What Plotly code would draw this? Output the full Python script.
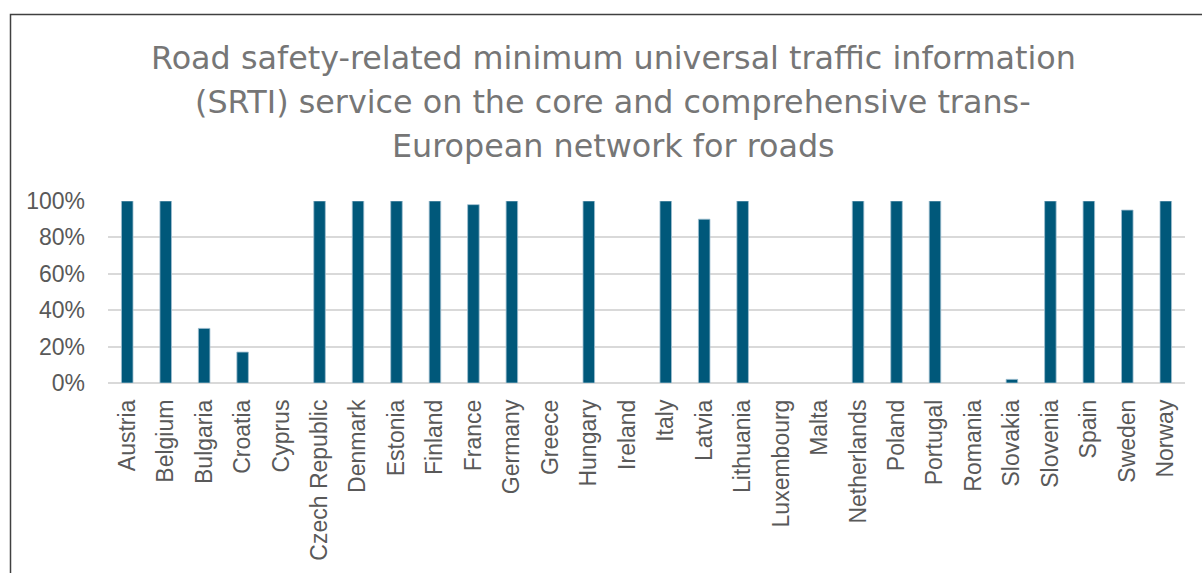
import plotly.graph_objects as go

countries = ["Austria", "Belgium", "Bulgaria", "Croatia", "Cyprus", "Czech Republic",
             "Denmark", "Estonia", "Finland", "France", "Germany", "Greece", "Hungary",
             "Ireland", "Italy", "Latvia", "Lithuania", "Luxembourg", "Malta",
             "Netherlands", "Poland", "Portugal", "Romania", "Slovakia", "Slovenia",
             "Spain", "Sweden", "Norway"]
values = [1.00, 1.00, 0.30, 0.17, 0.0, 1.00,
          1.00, 1.00, 1.00, 0.98, 1.00, 0.0, 1.00,
          0.0, 1.00, 0.90, 1.00, 0.0, 0.0,
          1.00, 1.00, 1.00, 0.0, 0.02, 1.00,
          1.00, 0.95, 1.00]
ytick_vals = [0, 0.2, 0.4, 0.6, 0.8, 1.0]
ytick_text = ["0%", "20%", "40%", "60%", "80%", "100%"]

title_lines = ["Road safety-related minimum universal traffic information",
               "(SRTI) service on the core and comprehensive trans-",
               "European network for roads"]

W, H = 1202, 573
L, R, T, B = 108, 17, 201, 187
pw, ph = W - L - R, H - T - B

def px_x(p):
    return (p - L) / pw

def px_y(p):
    return (H - B - p) / ph

fig = go.Figure()
fig.add_trace(go.Bar(
    x=countries, y=values,
    marker=dict(color="#00587a",
                line=dict(color="#9fbfd0", width=[0.8 if v > 0 else 0 for v in values])),
    width=0.3,
    hoverinfo="x+y",
))

annotations = []
for i, line in enumerate(title_lines):
    annotations.append(dict(
        text=line, xref="paper", yref="paper", x=px_x(613), y=px_y(55 + 45 * i),
        xanchor="center", yanchor="middle", showarrow=False,
        font=dict(family="DejaVu Sans, Open Sans, sans-serif", size=31.8, color="#767676"),
    ))

fig.update_layout(
    width=W, height=H,
    margin=dict(l=L, r=R, t=T, b=B),
    paper_bgcolor="white", plot_bgcolor="white",
    showlegend=False,
    annotations=annotations,
    font=dict(family="Liberation Sans, Arial, sans-serif", color="#595959"),
    xaxis=dict(tickangle=-90, tickfont=dict(size=23, color="#595959"),
               showgrid=False, showline=False, ticks="", ticklabelstandoff=11,
               range=[-0.5, len(countries) - 0.5]),
    yaxis=dict(range=[0, 1], tickvals=ytick_vals, ticktext=ytick_text,
               tickfont=dict(size=23, color="#595959"),
               gridcolor="#d9d9d9", gridwidth=1.5, zeroline=True,
               zerolinecolor="#d9d9d9", zerolinewidth=1.5, showline=False,
               ticks="", ticklabelstandoff=22),
    shapes=[dict(type="rect", xref="paper", yref="paper",
                 x0=px_x(10.5), x1=px_x(1215), y0=px_y(590), y1=px_y(11.5),
                 line=dict(color="#404040", width=1.5), layer="below")],
)

fig.write_html("out.html")
